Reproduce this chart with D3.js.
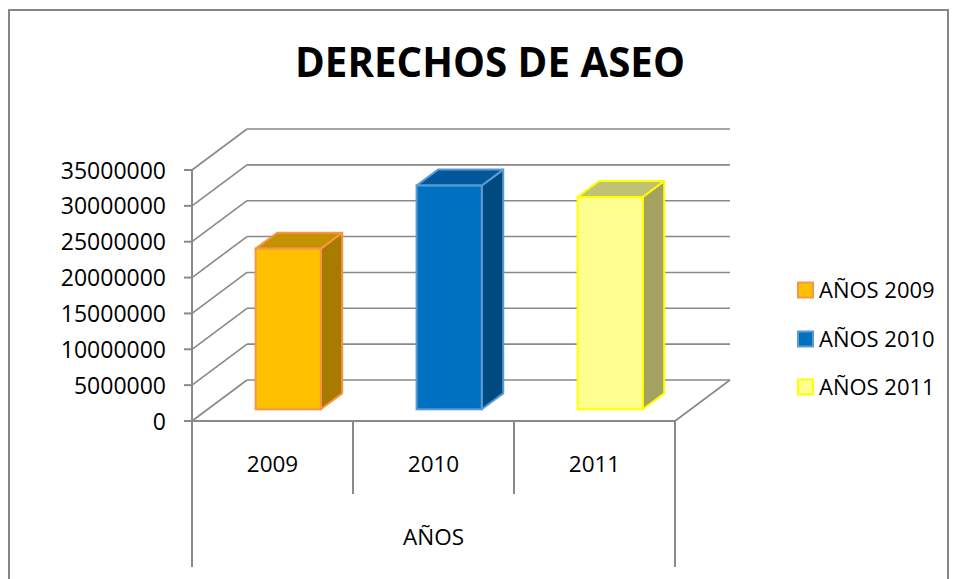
<!DOCTYPE html>
<html>
<head>
<meta charset="utf-8">
<script src="https://cdn.jsdelivr.net/npm/d3@7"></script>
<style>
  html, body { margin: 0; padding: 0; background: #fff; }
  svg { display: block; }
  text { font-family: "Open Sans", "Liberation Sans", sans-serif; fill: #000; }
</style>
</head>
<body>
<script>
// ---- data ----
const title = "DERECHOS DE ASEO";
const categories = ["2009", "2010", "2011"];
const values = [22400000, 31200000, 29600000];
const legendLabels = ["AÑOS 2009", "AÑOS 2010", "AÑOS 2011"];
const yTicks = [0, 5000000, 10000000, 15000000, 20000000, 25000000, 30000000, 35000000];
const groupLabel = "AÑOS";

// ---- styles ----
const frontColors = ["#FFC000", "#0070C0", "#FFFF8F"];
const topColors   = ["#C49200", "#00579A", "#C2C274"];
const sideColors  = ["#A67B00", "#004A80", "#A4A260"];
const strokeColors= ["#F79646", "#5B9BD5", "#FFFF00"];
const gridColor = "#898989";

const W = 958, H = 579;
const svg = d3.select("body").append("svg").attr("width", W).attr("height", H);

// frame
svg.append("rect").attr("x", 9).attr("y", 10).attr("width", 939).attr("height", 620)
  .attr("fill", "none").attr("stroke", "#868686").attr("stroke-width", 2);

// title
const t = svg.append("text").attr("x", 490).attr("y", 77).attr("text-anchor", "middle")
  .attr("font-weight", "bold").attr("font-size", 40).text(title);
{
  const w = t.node().getComputedTextLength();
  t.attr("font-size", 40 * 390 / w);
}

// scales
const x = d3.scaleBand().domain(categories).range([192, 675]).paddingInner(0).paddingOuter(0);
const y = d3.scaleLinear().domain([0, 35000000]).range([421, 170]);
const DX = 55, DY = -41;           // full depth offset
const d0 = 0.285, dd = 0.39;       // bar front depth, bar depth

const g = svg.append("g");

// back wall gridlines
g.selectAll(".grid").data(yTicks).enter().append("line")
  .attr("x1", y0 => 192 + DX).attr("x2", 675 + DX)
  .attr("y1", v => y(v) + DY).attr("y2", v => y(v) + DY)
  .attr("stroke", gridColor).attr("stroke-width", 1.6);

// left wall diagonals
g.selectAll(".diag").data(yTicks).enter().append("line")
  .attr("x1", 192).attr("x2", 192 + DX)
  .attr("y1", v => y(v)).attr("y2", v => y(v) + DY)
  .attr("stroke", gridColor).attr("stroke-width", 1.6);

// floor right edge
g.append("line").attr("x1", 675).attr("y1", y(0)).attr("x2", 675 + DX).attr("y2", y(0) + DY)
  .attr("stroke", gridColor).attr("stroke-width", 1.6);

// front axis
g.append("line").attr("x1", 192).attr("x2", 192).attr("y1", y(35000000)).attr("y2", y(0))
  .attr("stroke", gridColor).attr("stroke-width", 2);
g.selectAll(".tick").data(yTicks).enter().append("line")
  .attr("x1", 184).attr("x2", 192).attr("y1", v => y(v)).attr("y2", v => y(v))
  .attr("stroke", gridColor).attr("stroke-width", 2);
// floor front line
g.append("line").attr("x1", 184).attr("x2", 675).attr("y1", y(0)).attr("y2", y(0))
  .attr("stroke", gridColor).attr("stroke-width", 2);

// y labels
g.selectAll(".ylab").data(yTicks).enter().append("text")
  .attr("x", 166).attr("y", v => y(v) + 8.5).attr("text-anchor", "end")
  .attr("font-size", 23).text(v => d3.format("d")(v));

// bars
const bars = g.selectAll(".bar").data(values).enter().append("g");
bars.each(function (v, i) {
  const sel = d3.select(this);
  const bw = x.bandwidth() * 0.405;
  const xc = x(categories[i]) + x.bandwidth() / 2;
  const x0 = xc - bw / 2 + DX * d0, x1 = x0 + bw;
  const yb = y(0) + DY * d0, yt = y(v) + DY * d0;
  const ddx = DX * dd, ddy = DY * dd;
  const sw = 2;
  sel.append("polygon")
    .attr("points", [[x1, yt], [x1 + ddx, yt + ddy], [x1 + ddx, yb + ddy], [x1, yb]].map(p => p.join(",")).join(" "))
    .attr("fill", sideColors[i]).attr("stroke", strokeColors[i]).attr("stroke-width", sw).attr("stroke-linejoin", "round");
  sel.append("polygon")
    .attr("points", [[x0, yt], [x0 + ddx, yt + ddy], [x1 + ddx, yt + ddy], [x1, yt]].map(p => p.join(",")).join(" "))
    .attr("fill", topColors[i]).attr("stroke", strokeColors[i]).attr("stroke-width", sw).attr("stroke-linejoin", "round");
  sel.append("rect").attr("x", x0).attr("y", yt).attr("width", bw).attr("height", yb - yt)
    .attr("fill", frontColors[i]).attr("stroke", strokeColors[i]).attr("stroke-width", sw);
});

// category dividers
const edges = categories.map(c => x(c)).concat([x(categories[categories.length - 1]) + x.bandwidth()]);
g.selectAll(".div").data(edges).enter().append("line")
  .attr("x1", d => d).attr("x2", d => d)
  .attr("y1", y(0))
  .attr("y2", (d, i) => (i === 0 || i === edges.length - 1) ? 567 : 494)
  .attr("stroke", gridColor).attr("stroke-width", 2);

// category labels
g.selectAll(".xlab").data(categories).enter().append("text")
  .attr("x", c => x(c) + x.bandwidth() / 2).attr("y", 472)
  .attr("text-anchor", "middle").attr("font-size", 22.5).text(c => c);

g.append("text").attr("x", (192 + 675) / 2).attr("y", 545).attr("text-anchor", "middle")
  .attr("font-size", 22.5).text(groupLabel);

// legend
const leg = svg.append("g");
const legY = [290, 339, 387];
legendLabels.forEach((lab, i) => {
  leg.append("rect").attr("x", 798).attr("y", legY[i] - 7.5).attr("width", 15).attr("height", 15)
    .attr("fill", frontColors[i]).attr("stroke", strokeColors[i]).attr("stroke-width", 2);
  leg.append("text").attr("x", 819).attr("y", legY[i] + 8).attr("font-size", 22).text(lab);
});
</script>
</body>
</html>
